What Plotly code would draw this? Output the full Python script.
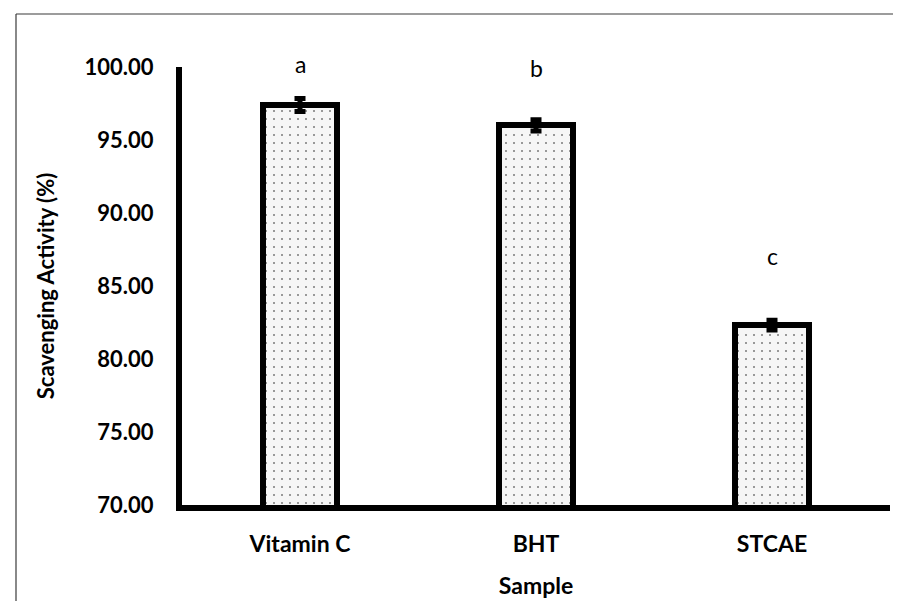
import plotly.graph_objects as go

# ---- data ----
samples = ["Vitamin C", "BHT", "STCAE"]
activity = [97.40, 96.00, 82.32]
errors = [0.45, 0.38, 0.33]
letters = ["a", "b", "c"]
y_ticks = [70, 75, 80, 85, 90, 95, 100]

# label heights above the bars (layout)
letter_y = [100.2, 99.9, 87.05]

FONT = "Lato"
Y_MIN, Y_MAX = 70, 100

fig = go.Figure()
fig.add_trace(go.Bar(
    x=samples,
    y=activity,
    width=0.31,
    marker=dict(
        color="#f6f6f6",
        line=dict(color="black", width=6),
        pattern=dict(shape=".", fgcolor="#7a7a7a", bgcolor="#f6f6f6",
                     size=8, solidity=0.05, fillmode="replace"),
    ),
    error_y=dict(type="data", array=errors, visible=True,
                 color="black", thickness=5, width=5.5),
    hoverinfo="skip",
))

for s, t, yy in zip(samples, letters, letter_y):
    fig.add_annotation(x=s, xref="x", y=(yy - Y_MIN) / (Y_MAX - Y_MIN), yref="paper",
                       text=t, showarrow=False,
                       xanchor="center", yanchor="middle",
                       font=dict(family=FONT, size=23, color="black"))

L, R, T, B = 174, 19, 59, 104
W, H = 901, 601
pw, ph = W - L - R, H - T - B

def px_x(p):
    return (p - L) / pw

def px_y(p):
    return (H - B - p) / ph

# outer frame (top and left edges visible)
fig.add_shape(type="line", xref="paper", yref="paper",
              x0=px_x(8), x1=px_x(905), y0=px_y(6), y1=px_y(6),
              line=dict(color="#3a3a3a", width=1.2))
fig.add_shape(type="line", xref="paper", yref="paper",
              x0=px_x(8), x1=px_x(8), y0=px_y(6), y1=px_y(605),
              line=dict(color="#3a3a3a", width=1.2))

fig.update_layout(
    width=W, height=H,
    margin=dict(l=L, r=R, t=T, b=B, pad=0),
    paper_bgcolor="white", plot_bgcolor="white",
    showlegend=False,
    bargap=0,
    font=dict(family=FONT, color="black"),
    xaxis=dict(
        type="category",
        range=[-0.5, 2.5],
        showline=True, linecolor="black", linewidth=6,
        showgrid=False, zeroline=False, ticks="",
        tickfont=dict(family=FONT, size=23, color="black", weight="bold"),
        ticklabelstandoff=13,
        title=dict(text="Sample", standoff=24,
                   font=dict(family=FONT, size=23, color="black", weight="bold")),
        fixedrange=True,
    ),
    yaxis=dict(
        range=[Y_MIN, Y_MAX],
        tickvals=y_ticks,
        tickformat=".2f",
        showline=True, linecolor="black", linewidth=6,
        showgrid=False, zeroline=False, ticks="",
        tickfont=dict(family=FONT, size=22, color="black", weight="bold"),
        ticklabelstandoff=18,
        title=dict(text="Scavenging Activity (%)", standoff=26,
                   font=dict(family=FONT, size=22, color="black", weight="bold")),
        fixedrange=True,
    ),
)

fig.write_html("out.html", config={"displayModeBar": False})
